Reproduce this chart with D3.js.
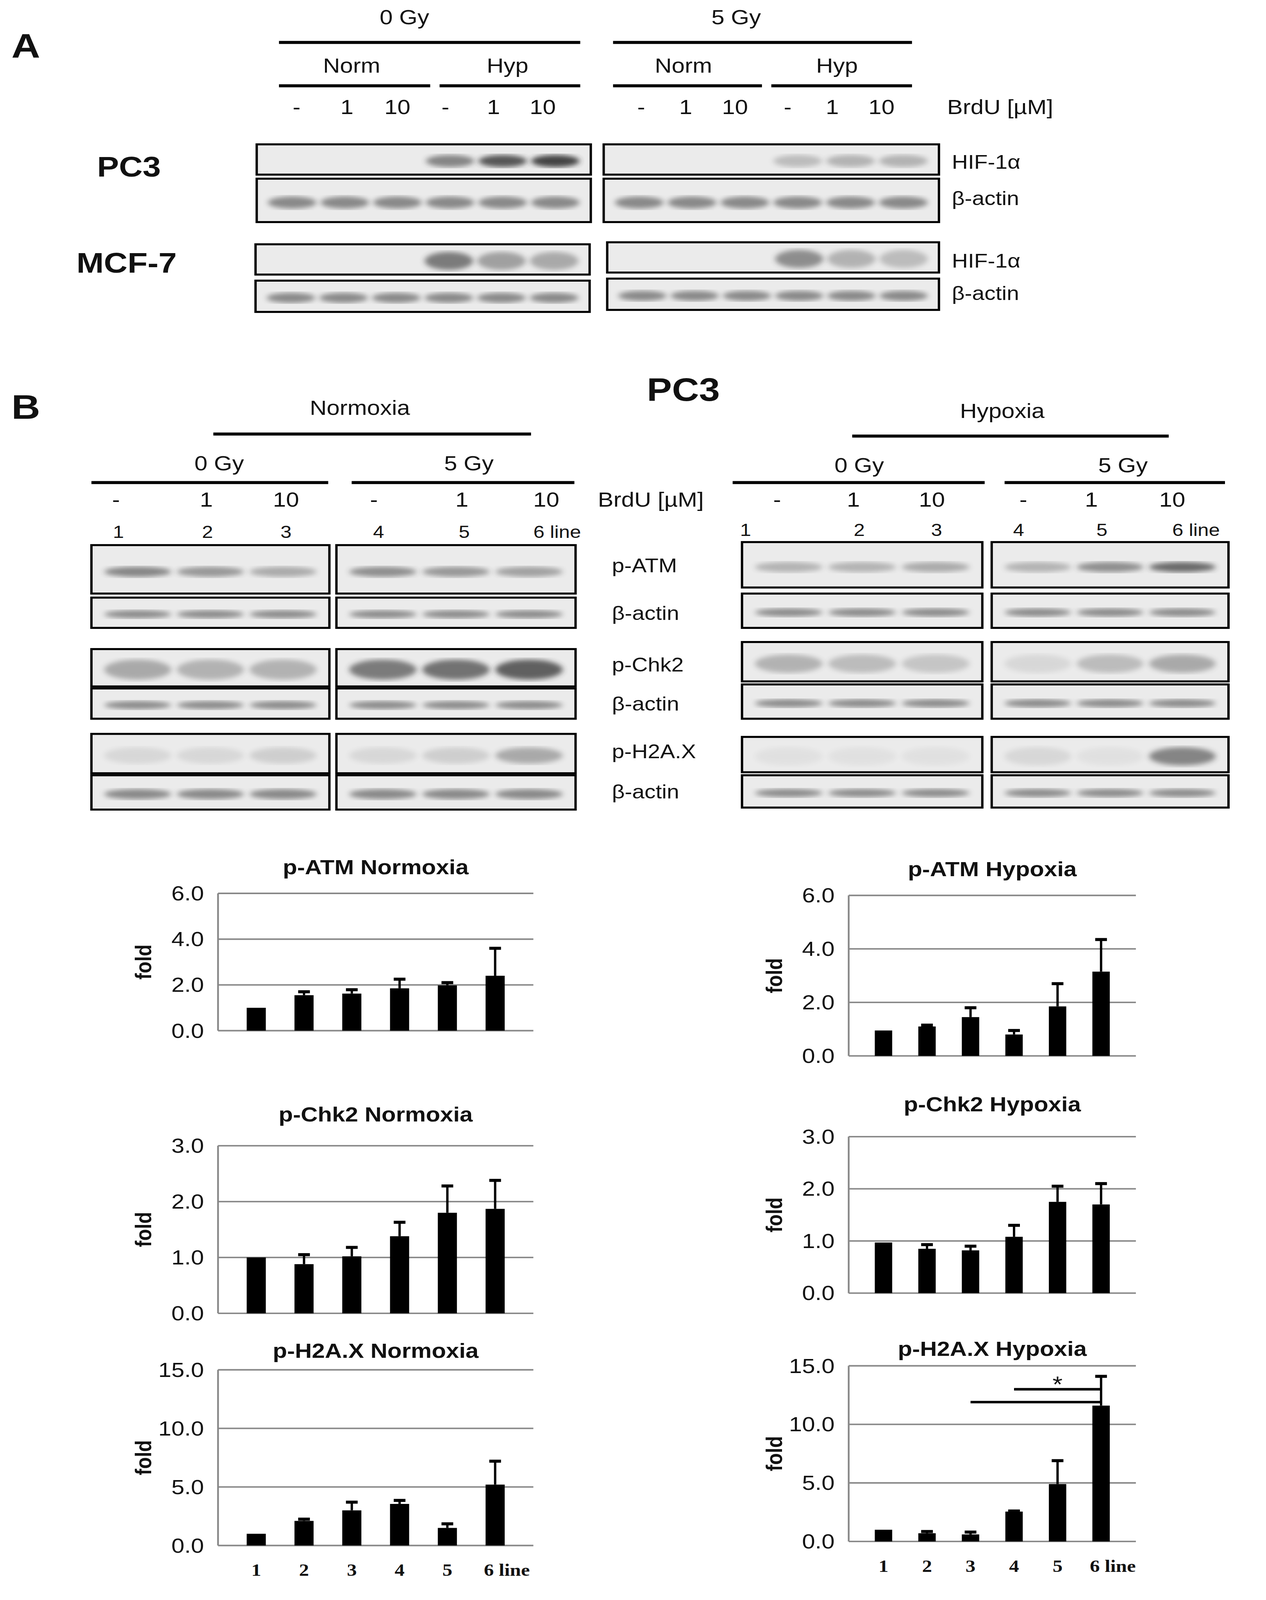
<!DOCTYPE html>
<meta charset="utf-8">
<html>
<head>
<script src="https://cdn.jsdelivr.net/npm/d3@7"></script>
<style>
html, body { margin:0; padding:0; background:#fff; overflow:hidden; }
svg { display:block; }
text { font-family:"Liberation Sans Narrow","Liberation Sans",Arial,sans-serif; fill:#111; }
</style>
</head>
<body>
<svg id=fig viewBox="0 0 1080 1585" preserveAspectRatio="none"></svg>
<script>
// ---- bar chart data (fold vs lane) ----
var lanes = ["1","2","3","4","5","6 line"]
var atmNorm = [1.0,1.55,1.62,1.85,1.98,2.4]
var atmNormErr = [0,0.15,0.17,0.4,0.12,1.2]
var atmHyp = [0.95,1.1,1.45,0.8,1.85,3.15]
var atmHypErr = [0,0.05,0.35,0.15,0.85,1.2]
var chkNorm = [1.0,0.88,1.02,1.38,1.8,1.87]
var chkNormErr = [0,0.17,0.16,0.25,0.48,0.51]
var chkHyp = [0.97,0.85,0.82,1.08,1.75,1.7]
var chkHypErr = [0,0.08,0.08,0.22,0.3,0.4]
var h2aNorm = [1.0,2.1,3.0,3.55,1.5,5.2]
var h2aNormErr = [0,0.15,0.7,0.3,0.35,2.0]
var h2aHyp = [1.0,0.7,0.6,2.55,4.9,11.6]
var h2aHypErr = [0,0.15,0.2,0.05,2.0,2.5]

// ---- blot band intensities (0..1) per lane ----
var aPc3HifL = [0,0,0,0.55,0.8,0.9], aPc3HifR = [0,0,0,0.25,0.3,0.3]
var aMcfHifL = [0,0,0,0.6,0.4,0.35], aMcfHifR = [0,0,0,0.5,0.3,0.25]
var actin = [0.65,0.65,0.65,0.65,0.65,0.65]
var bAtmN = [0.55,0.45,0.35,0.5,0.45,0.4], bAtmH = [0.3,0.3,0.35,0.3,0.5,0.7]
var bChkN = [0.35,0.3,0.3,0.6,0.65,0.75], bChkH = [0.3,0.25,0.2,0.1,0.25,0.35]
var bH2aN = [0.1,0.1,0.15,0.1,0.15,0.35], bH2aH = [0.05,0.05,0.05,0.1,0.05,0.55]

var W = window.innerWidth || 3241, H = window.innerHeight || 4757
var svg = d3.select("#fig").attr("width",W).attr("height",H)
var defs = svg.append("defs")
defs.append("filter").attr("id","blur").append("feGaussianBlur").attr("stdDeviation",2.5)

function txt(x,y,s,size,opt){
  opt=opt||{}
  return svg.append("text").attr("x",x).attr("y",y).text(s)
   .attr("font-size",size).attr("text-anchor",opt.anchor||"middle")
   .attr("font-weight",opt.bold?"bold":null)
   .style("font-family",opt.family||null)
}
function hline(x1,x2,y,w){
  svg.append("line").attr("x1",x1).attr("x2",x2).attr("y1",y).attr("y2",y)
   .attr("stroke","#000").attr("stroke-width",w||3)
}
function blot(x,y,w,h,vals,bandH,dark){
  var g=svg.append("g")
  g.append("rect").attr("x",x).attr("y",y).attr("width",w).attr("height",h)
   .attr("fill","#ebebeb").attr("stroke","#000").attr("stroke-width",2)
  var xs=d3.scaleBand().domain(d3.range(vals.length)).range([x+6,x+w-6]).padding(0.08)
  g.selectAll("ellipse").data(vals).join("ellipse")
   .attr("cx",(d,i)=>xs(i)+xs.bandwidth()/2).attr("cy",y+h*0.55)
   .attr("rx",xs.bandwidth()/2).attr("ry",bandH)
   .attr("fill",dark||"#333").attr("opacity",d=>d)
   .attr("filter","url(#blur)")
}

// ================= Panel A =================
txt(22,57,"A",34,{bold:true,family:"Liberation Sans"})
txt(345,24,"0 Gy",20); txt(628,24,"5 Gy",20)
hline(238,495,42); hline(523,778,42)
;[["Norm",300,238,367],["Hyp",433,375,495],["Norm",583,523,650],["Hyp",714,658,778]].forEach(d=>{
  txt(d[1],72,d[0],20); hline(d[2],d[3],85)
})
var brdu=["-","1","10","-","1","10"]
;[[253,296,339,380,421,463],[547,585,627,672,710,752]].forEach(xs=>{
  xs.forEach((x,i)=>txt(x,113,brdu[i],20))
})
txt(808,113,"BrdU [µM]",20,{anchor:"start"})
txt(110,175,"PC3",28,{bold:true,family:"Liberation Sans"})
txt(108,270,"MCF-7",28,{bold:true,family:"Liberation Sans"})
blot(219,143,285,30,aPc3HifL,6); blot(515,143,286,30,aPc3HifR,6)
blot(219,177,285,43,actin,6,"#555"); blot(515,177,286,43,actin,6,"#555")
blot(218,242,285,30,aMcfHifL,9); blot(518,240,283,30,aMcfHifR,9)
blot(218,278,285,31,actin,5,"#555"); blot(518,276,283,31,actin,5,"#555")
txt(812,167,"HIF-1α",19,{anchor:"start"}); txt(812,203,"β-actin",19,{anchor:"start"})
txt(812,265,"HIF-1α",19,{anchor:"start"}); txt(812,297,"β-actin",19,{anchor:"start"})

// ================= Panel B =================
txt(22,415,"B",34,{bold:true,family:"Liberation Sans"})
txt(583,397,"PC3",32,{bold:true,family:"Liberation Sans"})
txt(307,411,"Normoxia",20); hline(182,453,430)
txt(855,414,"Hypoxia",20); hline(727,997,432)
txt(187,466,"0 Gy",20); hline(78,280,478)
txt(400,466,"5 Gy",20); hline(300,490,478)
txt(733,468,"0 Gy",20); hline(625,840,478)
txt(958,468,"5 Gy",20); hline(857,1045,478)
;[[99,176,244,319,394,466],[663,728,795,873,931,1000]].forEach(xs=>{
  xs.forEach((x,i)=>txt(x,502,brdu[i],20))
})
txt(510,502,"BrdU [µM]",20,{anchor:"start"})
var laneL=["1","2","3","4","5","6 line"]
;[101,177,244,323,396,455].forEach((x,i)=>txt(x,533,laneL[i],17,{anchor:i==5?"start":"middle"}))
;[636,733,799,869,940,1000].forEach((x,i)=>txt(x,531,i==5?"6  line":laneL[i],17,{anchor:i==5?"start":"middle"}))
var lx=[[78,203],[287,204]], rx=[[633,205],[846,202]]
function pair(xx,y,h,v,bh,col){ blot(xx[0][0],y,xx[0][1],h,v.slice(0,3),bh,col); blot(xx[1][0],y,xx[1][1],h,v.slice(3),bh,col) }
pair(lx,540,48,bAtmN,5); pair(lx,592,30,actin,4,"#555")
pair(lx,643,37,bChkN,10); pair(lx,682,30,actin,4,"#555")
pair(lx,727,39,bH2aN,8); pair(lx,768,34,actin,5,"#555")
pair(rx,537,45,bAtmH,5); pair(rx,588,34,actin,4,"#555")
pair(rx,636,39,bChkH,9); pair(rx,678,34,actin,4,"#555")
pair(rx,730,35,bH2aH,9); pair(rx,768,32,actin,4,"#555")
;[["p-ATM",567],["β-actin",614],["p-Chk2",665],["β-actin",704],["p-H2A.X",751],["β-actin",791]]
 .forEach(d=>txt(522,d[1],d[0],19,{anchor:"start"}))

// ================= bar charts =================
function chart(title,vals,errs,x0,x1,yTop,yBot,maxV,step,titleY,showX,sig){
  var x=d3.scaleBand().domain(lanes).range([x0,x1]).padding(0.6)
  var y=d3.scaleLinear().domain([0,maxV]).range([yBot,yTop])
  var g=svg.append("g")
  var ticks=d3.range(0,maxV+0.001,step)
  var bw=x.bandwidth(), cx=i=>x(lanes[i])+bw/2
  g.selectAll(".grid").data(ticks).join("line")
   .attr("x1",x0).attr("x2",x1).attr("y1",d=>y(d)).attr("y2",d=>y(d))
   .attr("stroke","#888").attr("stroke-width",1.5)
  g.append("line").attr("x1",x0).attr("x2",x0).attr("y1",yTop).attr("y2",yBot).attr("stroke","#888").attr("stroke-width",1.5)
  g.selectAll(".tl").data(ticks).join("text")
   .attr("x",x0-12).attr("y",d=>y(d)+7).attr("text-anchor","end").attr("font-size",20)
   .text(d=>d.toFixed(1))
  g.append("text").attr("transform","translate("+(x0-57)+","+((yTop+yBot)/2)+") rotate(-90)")
   .attr("text-anchor","middle").attr("font-size",19).attr("font-weight","bold")
   .style("font-family","Liberation Sans").text("fold")
  g.append("text").attr("x",(x0+x1)/2).attr("y",titleY).attr("text-anchor","middle")
   .attr("font-size",20).attr("font-weight","bold").style("font-family","Liberation Sans").text(title)
  var eb=d3.range(vals.length).filter(i=>errs[i]>0)
  g.selectAll(".err").data(eb).join("line")
   .attr("x1",i=>cx(i)).attr("x2",i=>cx(i))
   .attr("y1",i=>y(vals[i])).attr("y2",i=>y(vals[i]+errs[i])).attr("stroke","#000").attr("stroke-width",2)
  g.selectAll(".cap").data(eb).join("line")
   .attr("x1",i=>cx(i)-5).attr("x2",i=>cx(i)+5)
   .attr("y1",i=>y(vals[i]+errs[i])).attr("y2",i=>y(vals[i]+errs[i])).attr("stroke","#000").attr("stroke-width",3)
  g.selectAll(".bar").data(vals).join("rect")
   .attr("x",(d,i)=>x(lanes[i])).attr("width",bw)
   .attr("y",d=>y(d)).attr("height",d=>yBot-y(d)).attr("fill","#000")
  if(showX){
    g.selectAll(".xl").data(lanes).join("text")
     .attr("x",d=>x(d)+bw/2+(d.length>1?10:0)).attr("y",yBot+30).attr("text-anchor","middle")
     .attr("font-size",17).style("font-family","Liberation Serif").attr("font-weight","bold").text(d=>d)
  }
  if(sig){
    sig.forEach(s=>{
      g.append("line").attr("x1",cx(s[0])).attr("x2",cx(s[1]))
       .attr("y1",y(s[2])).attr("y2",y(s[2])).attr("stroke","#000").attr("stroke-width",2.5)
    })
    g.append("text").attr("x",cx(4)).attr("y",y(13.6)+10).attr("text-anchor","middle")
     .attr("font-size",22).text("*")
  }
}
chart("p-ATM Normoxia",atmNorm,atmNormErr,186,455,885,1021,6,2,866,false)
chart("p-ATM Hypoxia",atmHyp,atmHypErr,724,969,887,1046,6,2,868,false)
chart("p-Chk2 Normoxia",chkNorm,chkNormErr,186,455,1135,1301,3,1,1111,false)
chart("p-Chk2 Hypoxia",chkHyp,chkHypErr,724,969,1126,1281,3,1,1101,false)
chart("p-H2A.X Normoxia",h2aNorm,h2aNormErr,186,455,1357,1531,15,5,1345,true)
chart("p-H2A.X Hypoxia",h2aHyp,h2aHypErr,724,969,1353,1527,15,5,1343,true,[[2,5,11.9],[3,5,13.0]])
</script>
</body>
</html>
